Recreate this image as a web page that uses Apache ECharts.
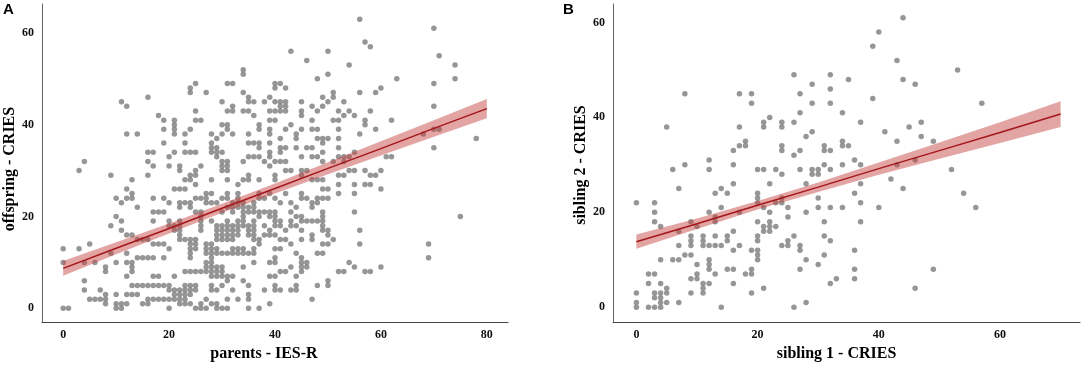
<!DOCTYPE html>
<html>
<head>
<meta charset="utf-8">
<title>CRIES scatter</title>
<script src="https://cdn.jsdelivr.net/npm/echarts@6/dist/echarts.min.js"></script>
<style>
    html, body { margin: 0; padding: 0; background: #fff; }
    #chart { width: 1084px; height: 367px; }
</style>
</head>
<body>
<div id="chart"></div>
<script>
// panel A: parents IES-R (x) vs offspring CRIES (y)
var pointsA = [
    [0,0],[0,10],[0,13],[1,0],[3,13],[3,30],[4,4],[4,6],[4,10],[4,32],[5,2],[5,14],[6,2],[6,10],[7,2],[7,4],
    [8,1],[8,2],[8,3],[8,8],[8,9],[9,12],[9,18],[9,29],
    [10,0],[10,1],[10,3],[10,10],[10,20],[10,24],
    [11,0],[11,1],[11,17],[11,19],[11,23],[11,45],
    [12,1],[12,3],[12,7],[12,10],[12,12],[12,16],[12,24],[12,26],[12,38],[12,44],
    [13,3],[13,5],[13,8],[13,9],[13,10],[13,16],[13,24],[13,25],[13,28],
    [14,3],[14,5],[14,11],[14,15],[14,22],[14,38],
    [15,1],[15,5],[15,11],[15,15],
    [16,1],[16,2],[16,5],[16,11],[16,15],[16,29],[16,32],[16,34],[16,46],
    [17,2],[17,5],[17,7],[17,11],[17,14],[17,19],[17,21],[17,24],[17,31],[17,34],
    [18,2],[18,5],[18,7],[18,14],[18,21],[18,42],
    [19,2],[19,5],[19,11],[19,14],[19,21],[19,24],[19,36],[19,39],[19,41],
    [20,0],[20,2],[20,4],[20,5],[20,13],[20,18],[20,19],[20,23],[20,31],[20,33],
    [21,2],[21,3],[21,4],[21,7],[21,17],[21,18],[21,26],[21,34],[21,38],[21,39],[21,40],[21,41],
    [22,1],[22,2],[22,3],[22,4],[22,15],[22,16],[22,17],[22,18],[22,19],[22,22],[22,23],[22,26],[22,30],[22,31],
    [23,1],[23,2],[23,3],[23,4],[23,5],[23,8],[23,15],[23,23],[23,26],[23,28],[23,34],[23,36],[23,38],
    [24,1],[24,3],[24,4],[24,5],[24,8],[24,11],[24,12],[24,13],[24,14],[24,15],[24,22],[24,23],[24,28],[24,29],[24,34],[24,39],[24,47],[24,48],
    [25,0],[25,4],[25,5],[25,8],[25,13],[25,14],[25,15],[25,21],[25,24],[25,27],[25,29],[25,30],[25,34],[25,41],[25,43],[25,49],
    [26,0],[26,1],[26,8],[26,17],[26,18],[26,19],[26,20],[26,21],[26,24],[26,31],[26,41],
    [27,0],[27,2],[27,8],[27,9],[27,10],[27,12],[27,13],[27,14],[27,23],[27,24],[27,25],[27,47],
    [28,1],[28,4],[28,5],[28,7],[28,8],[28,9],[28,10],[28,11],[28,12],[28,13],[28,14],[28,19],[28,23],[28,25],[28,28],[28,34],[28,35],[28,36],[28,38],
    [29,0],[29,1],[29,4],[29,7],[29,8],[29,9],[29,12],[29,13],[29,15],[29,16],[29,17],[29,18],[29,23],[29,33],[29,34],[29,35],[29,37],
    [30,0],[30,5],[30,7],[30,8],[30,9],[30,12],[30,15],[30,16],[30,17],[30,18],[30,21],[30,24],[30,30],[30,31],[30,32],[30,34],[30,38],[30,40],[30,45],
    [31,0],[31,2],[31,6],[31,7],[31,12],[31,15],[31,16],[31,17],[31,18],[31,19],[31,22],[31,24],[31,25],[31,28],[31,30],[31,31],[31,32],[31,39],[31,40],[31,43],[31,49],
    [32,4],[32,7],[32,12],[32,13],[32,15],[32,16],[32,17],[32,18],[32,21],[32,22],[32,23],[32,38],[32,43],[32,44],[32,49],
    [33,2],[33,12],[33,13],[33,16],[33,17],[33,18],[33,19],[33,22],[33,23],[33,24],[33,25],[33,27],
    [34,6],[34,9],[34,12],[34,13],[34,18],[34,19],[34,20],[34,21],[34,22],[34,23],[34,28],[34,32],[34,43],[34,47],[34,51],[34,52],
    [35,0],[35,2],[35,3],[35,5],[35,12],[35,16],[35,17],[35,18],[35,21],[35,22],[35,28],[35,29],[35,33],[35,36],[35,38],[35,43],[35,45],[35,46],
    [36,10],[36,12],[36,13],[36,15],[36,16],[36,17],[36,18],[36,19],[36,21],[36,22],[36,23],[36,33],[36,36],[36,42],[36,45],
    [37,0],[37,14],[37,15],[37,20],[37,21],[37,24],[37,25],[37,28],[37,33],[37,35],[37,36],[37,39],[37,40],
    [38,4],[38,16],[38,18],[38,21],[38,24],[38,32],[38,45],
    [39,1],[39,7],[39,10],[39,16],[39,17],[39,20],[39,21],[39,25],[39,31],[39,33],[39,34],[39,36],[39,38],[39,39],[39,41],[39,43],[39,46],
    [40,4],[40,5],[40,7],[40,10],[40,11],[40,13],[40,16],[40,18],[40,19],[40,20],[40,21],[40,24],[40,28],[40,29],[40,32],[40,41],[40,43],[40,45],[40,48],[40,49],
    [41,4],[41,8],[41,13],[41,15],[41,18],[41,19],[41,23],[41,32],[41,34],[41,35],[41,37],[41,43],[41,44],[41,45],[41,49],
    [42,8],[42,15],[42,17],[42,25],[42,30],[42,32],[42,35],[42,39],[42,43],[42,44],[42,45],[42,48],
    [43,4],[43,9],[43,14],[43,18],[43,19],[43,21],[43,23],[43,30],[43,40],[43,56],
    [44,4],[44,5],[44,7],[44,12],[44,18],[44,20],[44,22],[44,35],[44,37],[44,38],
    [45,8],[45,9],[45,10],[45,11],[45,15],[45,17],[45,19],[45,20],[45,24],[45,25],[45,29],[45,30],[45,33],[45,39],[45,42],[45,43],[45,45],
    [46,9],[46,10],[46,19],[46,24],[46,30],[46,35],[46,54],
    [47,2],[47,15],[47,16],[47,19],[47,22],[47,23],[47,28],[47,33],[47,35],[47,39],[47,41],[47,44],
    [48,5],[48,12],[48,19],[48,23],[48,24],[48,28],[48,33],[48,37],[48,39],[48,43],[48,50],
    [49,12],[49,14],[49,17],[49,18],[49,19],[49,20],[49,21],[49,24],[49,26],[49,28],[49,32],[49,34],[49,36],[49,37],[49,44],[49,46],
    [50,5],[50,6],[50,14],[50,16],[50,17],[50,24],[50,26],[50,37],[50,45],[50,51],[50,56],
    [51,15],[51,32],[51,41],[51,46],[51,47],
    [52,8],[52,25],[52,27],[52,29],[52,33],[52,35],[52,37],[52,39],[52,41],[52,43],
    [53,8],[53,29],[53,32],[53,33],[53,42],[53,45],
    [54,10],[54,30],[54,33],[54,43],[54,53],
    [55,9],[55,21],[55,25],[55,27],[55,30],[55,34],[55,42],
    [56,14],[56,17],[56,38],[56,47],[56,63],
    [57,8],[57,27],[57,30],[57,40],[57,41],[57,58],
    [58,8],[58,27],[58,29],[58,43],[58,57],
    [59,29],[59,39],[59,47],[60,9],[60,26],[60,30],[60,48],
    [61,33],[62,33],[62,41],[63,50],[68,38],[69,11],[69,14],
    [70,35],[70,39],[70,44],[70,49],[70,61],[71,39],[71,55],[74,50],[74,53],[75,20],[78,37]
];
var bandXA = [0, 10, 20, 30, 40, 50, 60, 70, 80];
var fitA = [8.7, 13.1, 17.4, 21.8, 26.1, 30.5, 34.8, 39.2, 43.5];
var lowerA = [7.1, 11.8, 16.3, 20.8, 25.0, 29.2, 33.3, 37.4, 41.4];
var upperA = [10.3, 14.4, 18.5, 22.8, 27.2, 31.8, 36.4, 41.0, 45.6];
var ticksAX = [0, 20, 40, 60, 80];
var ticksAY = [0, 20, 40, 60];

// panel B: sibling 1 CRIES (x) vs sibling 2 CRIES (y)
var pointsB = [
    [0,0],[0,1],[0,3],[0,22],[2,0],[2,5],[2,7],
    [3,0],[3,2],[3,3],[3,7],[3,18],[3,20],[3,22],
    [4,0],[4,1],[4,2],[4,3],[4,5],[4,10],[4,17],
    [5,1],[5,3],[5,4],[5,38],[6,10],[6,29],
    [7,1],[7,10],[7,13],[7,16],[7,25],[8,11],[8,30],[8,45],
    [9,3],[9,6],[9,11],[9,13],[9,14],[9,15],[9,18],
    [10,6],[10,7],[10,9],[10,17],
    [11,3],[11,4],[11,5],[11,13],[11,14],[11,15],
    [12,5],[12,8],[12,9],[12,10],[12,13],[12,20],[12,29],[12,31],
    [13,7],[13,13],[13,15],[13,18],[13,19],[13,24],
    [14,0],[14,13],[14,21],[14,25],[15,8],[15,14],[15,15],[15,24],
    [16,5],[16,8],[16,12],[16,16],[16,26],[16,30],[16,33],
    [17,13],[17,20],[17,34],[17,38],[17,45],[18,7],[18,34],[18,35],
    [19,3],[19,7],[19,8],[19,12],[19,43],[19,45],
    [20,10],[20,11],[20,12],[20,14],[20,15],[20,18],[20,22],[20,23],[20,24],[20,29],
    [21,4],[21,16],[21,17],[21,21],[21,29],[21,38],[21,39],
    [22,16],[22,17],[22,18],[22,20],[22,26],[22,40],[23,17],[23,22],[23,29],
    [24,13],[24,22],[24,23],[24,28],[24,33],[24,34],[24,38],[24,39],
    [25,13],[25,14],[25,19],[25,21],[26,0],[26,15],[26,32],[26,39],[26,49],
    [27,8],[27,12],[27,13],[27,29],[27,33],[27,41],[27,45],
    [28,1],[28,10],[28,20],[28,26],[28,36],[29,28],[29,29],[29,37],[29,43],[29,47],
    [30,9],[30,21],[30,23],[30,28],[30,29],[31,11],[31,15],[31,18],[31,30],[31,33],[31,34],
    [32,5],[32,14],[32,21],[32,29],[32,33],[32,43],[32,46],[32,49],[33,6],
    [34,21],[34,30],[34,34],[34,35],[34,41],[35,34],[35,48],
    [36,6],[36,8],[36,12],[36,24],[36,31],[37,18],[37,22],[37,26],[37,30],[37,39],
    [39,44],[39,55],[40,21],[40,58],[41,37],[42,27],[43,30],[43,35],[43,52],
    [44,25],[44,48],[44,61],[45,38],[46,4],[46,31],[46,47],[47,36],[47,39],
    [49,8],[49,35],[52,29],[53,50],[54,24],[56,21],[57,43]
];
var bandXB = [0, 10, 20, 30, 40, 50, 60, 70];
var fitB = [13.8, 17.6, 21.5, 25.3, 29.2, 33.0, 36.8, 40.7];
var lowerB = [12.3, 16.5, 20.6, 24.3, 27.9, 31.3, 34.6, 38.0];
var upperB = [15.3, 18.7, 22.4, 26.3, 30.5, 34.7, 39.0, 43.4];
var ticksBX = [0, 20, 40, 60];
var ticksBY = [0, 20, 40, 60];

var serif = 'Liberation Serif';

function makeAxis(idx, min, max, name, ticks, isY, gap, namePad) {
    return {
        gridIndex: idx,
        type: 'value',
        min: min,
        max: max,
        name: name,
        nameLocation: 'middle',
        nameGap: gap,
        nameTextStyle: {fontFamily: serif, fontWeight: 'bold', fontSize: 16, color: '#000', padding: namePad},
        axisLine: {show: true, onZero: false, lineStyle: {color: isY ? '#666' : '#444', width: 1}},
        axisTick: {show: false},
        splitLine: {show: false},
        axisLabel: {
            fontFamily: serif,
            fontWeight: 'bold',
            fontSize: 12,
            color: '#111',
            margin: isY ? 8 : 7,
            formatter: function (v) {
                return ticks.indexOf(v) >= 0 ? String(v) : '';
            }
        }
    };
}

function panelSeries(idx, points, xs, fit, lower, upper) {
    return [
        {
            type: 'scatter', xAxisIndex: idx, yAxisIndex: idx, z: 2,
            symbolSize: 5.5,
            itemStyle: {color: '#7c7c7c'},
            data: points
        },
        {
            // confidence band: upper edge left to right, then lower edge back
            type: 'custom', xAxisIndex: idx, yAxisIndex: idx, z: 3,
            silent: true,
            data: [[xs[0], lower[0]]],
            renderItem: function (params, api) {
                var pts = [];
                for (var i = 0; i < xs.length; i++) {
                    pts.push(api.coord([xs[i], upper[i]]));
                }
                for (var j = xs.length - 1; j >= 0; j--) {
                    pts.push(api.coord([xs[j], lower[j]]));
                }
                return {
                    type: 'polygon',
                    shape: {points: pts},
                    style: {fill: 'rgba(196,64,64,0.48)'}
                };
            }
        },
        {
            type: 'line', xAxisIndex: idx, yAxisIndex: idx, z: 4,
            symbol: 'none',
            lineStyle: {color: '#a4161a', width: 1.5},
            data: xs.map(function (x, i) { return [x, fit[i]]; })
        }
    ];
}

var chart = echarts.init(document.getElementById('chart'));
chart.setOption({
    animation: false,
    backgroundColor: '#fff',
    title: [
        {text: 'A', left: 3, top: 2, padding: 0, textStyle: {fontFamily: 'Liberation Sans', fontWeight: 'bold', fontSize: 15, color: '#000'}},
        {text: 'B', left: 563, top: 2, padding: 0, textStyle: {fontFamily: 'Liberation Sans', fontWeight: 'bold', fontSize: 15, color: '#000'}}
    ],
    grid: [
        {left: 42, top: 4, width: 466, height: 320},
        {left: 613, top: 4, width: 467, height: 320}
    ],
    xAxis: [
        makeAxis(0, -4, 84, 'parents - IES-R', ticksAX, false, 22, [0, 22, 0, 0]),
        makeAxis(1, -3.86, 73.2, 'sibling 1 - CRIES', ticksBX, false, 22, [0, 20, 0, 0])
    ],
    yAxis: [
        makeAxis(0, -3, 66.3, 'offspring - CRIES', ticksAY, true, 20, [0, 12, 0, 0]),
        makeAxis(1, -3.14, 63.9, 'sibling 2 - CRIES', ticksBY, true, 22, [0, 4, 0, 0])
    ],
    series: panelSeries(0, pointsA, bandXA, fitA, lowerA, upperA)
        .concat(panelSeries(1, pointsB, bandXB, fitB, lowerB, upperB))
});
</script>
</body>
</html>
